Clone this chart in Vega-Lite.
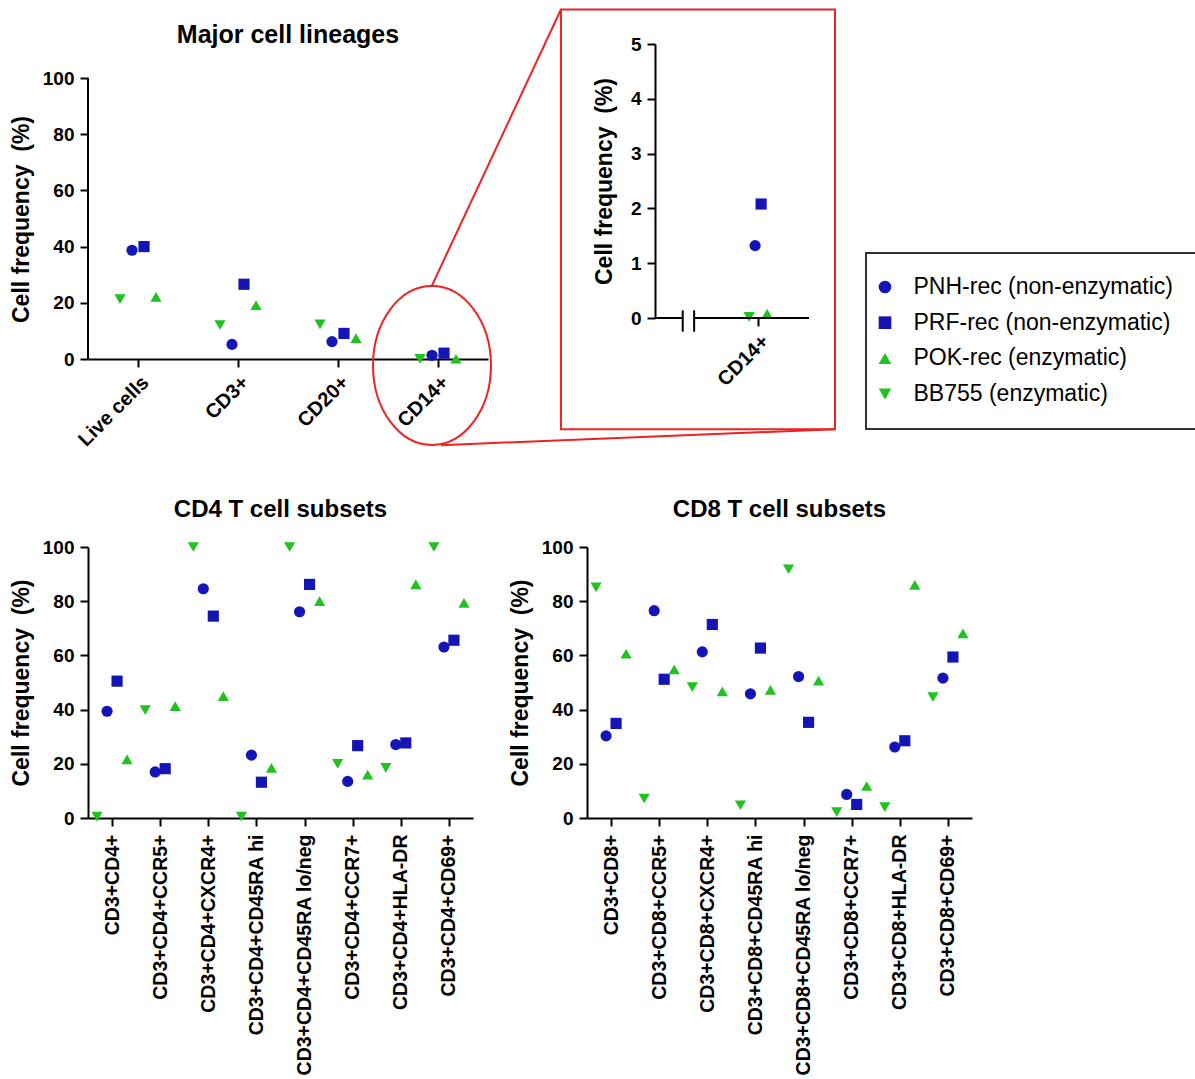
{
"$schema": "https://vega.github.io/schema/vega-lite/v6.json",
"background": "white",
"padding": {"left": 10, "top": 8, "right": 0, "bottom": 0},
"autosize": {"type": "pad"},
"bounds": "flush",
"columns": 2,
"spacing": {"row": 188, "column": 99},
"resolve": {"scale": {"xOffset": "independent"}},
"datasets": {
 "major": [
  {"population": "Live cells", "reagent": "PNH-rec (non-enzymatic)", "frequency": 38.7},
  {"population": "Live cells", "reagent": "PRF-rec (non-enzymatic)", "frequency": 40.0},
  {"population": "Live cells", "reagent": "POK-rec (enzymatic)", "frequency": 22.1},
  {"population": "Live cells", "reagent": "BB755 (enzymatic)", "frequency": 21.3},
  {"population": "CD3+", "reagent": "PNH-rec (non-enzymatic)", "frequency": 5.2},
  {"population": "CD3+", "reagent": "PRF-rec (non-enzymatic)", "frequency": 26.6},
  {"population": "CD3+", "reagent": "POK-rec (enzymatic)", "frequency": 19.2},
  {"population": "CD3+", "reagent": "BB755 (enzymatic)", "frequency": 12.1},
  {"population": "CD20+", "reagent": "PNH-rec (non-enzymatic)", "frequency": 6.2},
  {"population": "CD20+", "reagent": "PRF-rec (non-enzymatic)", "frequency": 9.1},
  {"population": "CD20+", "reagent": "POK-rec (enzymatic)", "frequency": 7.4},
  {"population": "CD20+", "reagent": "BB755 (enzymatic)", "frequency": 12.3},
  {"population": "CD14+", "reagent": "PNH-rec (non-enzymatic)", "frequency": 1.32},
  {"population": "CD14+", "reagent": "PRF-rec (non-enzymatic)", "frequency": 2.08},
  {"population": "CD14+", "reagent": "POK-rec (enzymatic)", "frequency": 0.08},
  {"population": "CD14+", "reagent": "BB755 (enzymatic)", "frequency": 0.02}
 ],
 "cd4": [
  {"population": "CD3+CD4+", "reagent": "PNH-rec (non-enzymatic)", "frequency": 39.4},
  {"population": "CD3+CD4+", "reagent": "PRF-rec (non-enzymatic)", "frequency": 50.5},
  {"population": "CD3+CD4+", "reagent": "POK-rec (enzymatic)", "frequency": 21.6},
  {"population": "CD3+CD4+", "reagent": "BB755 (enzymatic)", "frequency": 0.5},
  {"population": "CD3+CD4+CCR5+", "reagent": "PNH-rec (non-enzymatic)", "frequency": 17.0},
  {"population": "CD3+CD4+CCR5+", "reagent": "PRF-rec (non-enzymatic)", "frequency": 18.2},
  {"population": "CD3+CD4+CCR5+", "reagent": "POK-rec (enzymatic)", "frequency": 41.3},
  {"population": "CD3+CD4+CCR5+", "reagent": "BB755 (enzymatic)", "frequency": 39.8},
  {"population": "CD3+CD4+CXCR4+", "reagent": "PNH-rec (non-enzymatic)", "frequency": 84.6},
  {"population": "CD3+CD4+CXCR4+", "reagent": "PRF-rec (non-enzymatic)", "frequency": 74.5},
  {"population": "CD3+CD4+CXCR4+", "reagent": "POK-rec (enzymatic)", "frequency": 45.0},
  {"population": "CD3+CD4+CXCR4+", "reagent": "BB755 (enzymatic)", "frequency": 100},
  {"population": "CD3+CD4+CD45RA hi", "reagent": "PNH-rec (non-enzymatic)", "frequency": 23.2},
  {"population": "CD3+CD4+CD45RA hi", "reagent": "PRF-rec (non-enzymatic)", "frequency": 13.2},
  {"population": "CD3+CD4+CD45RA hi", "reagent": "POK-rec (enzymatic)", "frequency": 18.5},
  {"population": "CD3+CD4+CD45RA hi", "reagent": "BB755 (enzymatic)", "frequency": 0.5},
  {"population": "CD3+CD4+CD45RA lo/neg", "reagent": "PNH-rec (non-enzymatic)", "frequency": 76.1},
  {"population": "CD3+CD4+CD45RA lo/neg", "reagent": "PRF-rec (non-enzymatic)", "frequency": 86.2},
  {"population": "CD3+CD4+CD45RA lo/neg", "reagent": "POK-rec (enzymatic)", "frequency": 80.0},
  {"population": "CD3+CD4+CD45RA lo/neg", "reagent": "BB755 (enzymatic)", "frequency": 100},
  {"population": "CD3+CD4+CCR7+", "reagent": "PNH-rec (non-enzymatic)", "frequency": 13.5},
  {"population": "CD3+CD4+CCR7+", "reagent": "PRF-rec (non-enzymatic)", "frequency": 26.7},
  {"population": "CD3+CD4+CCR7+", "reagent": "POK-rec (enzymatic)", "frequency": 16.0},
  {"population": "CD3+CD4+CCR7+", "reagent": "BB755 (enzymatic)", "frequency": 20.0},
  {"population": "CD3+CD4+HLA-DR", "reagent": "PNH-rec (non-enzymatic)", "frequency": 27.1},
  {"population": "CD3+CD4+HLA-DR", "reagent": "PRF-rec (non-enzymatic)", "frequency": 27.7},
  {"population": "CD3+CD4+HLA-DR", "reagent": "POK-rec (enzymatic)", "frequency": 86.2},
  {"population": "CD3+CD4+HLA-DR", "reagent": "BB755 (enzymatic)", "frequency": 18.5},
  {"population": "CD3+CD4+CD69+", "reagent": "PNH-rec (non-enzymatic)", "frequency": 63.1},
  {"population": "CD3+CD4+CD69+", "reagent": "PRF-rec (non-enzymatic)", "frequency": 65.6},
  {"population": "CD3+CD4+CD69+", "reagent": "POK-rec (enzymatic)", "frequency": 79.4},
  {"population": "CD3+CD4+CD69+", "reagent": "BB755 (enzymatic)", "frequency": 100}
 ],
 "cd8": [
  {"population": "CD3+CD8+", "reagent": "PNH-rec (non-enzymatic)", "frequency": 30.3},
  {"population": "CD3+CD8+", "reagent": "PRF-rec (non-enzymatic)", "frequency": 34.9},
  {"population": "CD3+CD8+", "reagent": "POK-rec (enzymatic)", "frequency": 60.6},
  {"population": "CD3+CD8+", "reagent": "BB755 (enzymatic)", "frequency": 85.1},
  {"population": "CD3+CD8+CCR5+", "reagent": "PNH-rec (non-enzymatic)", "frequency": 76.5},
  {"population": "CD3+CD8+CCR5+", "reagent": "PRF-rec (non-enzymatic)", "frequency": 51.2},
  {"population": "CD3+CD8+CCR5+", "reagent": "POK-rec (enzymatic)", "frequency": 54.8},
  {"population": "CD3+CD8+CCR5+", "reagent": "BB755 (enzymatic)", "frequency": 7.2},
  {"population": "CD3+CD8+CXCR4+", "reagent": "PNH-rec (non-enzymatic)", "frequency": 61.3},
  {"population": "CD3+CD8+CXCR4+", "reagent": "PRF-rec (non-enzymatic)", "frequency": 71.4},
  {"population": "CD3+CD8+CXCR4+", "reagent": "POK-rec (enzymatic)", "frequency": 46.7},
  {"population": "CD3+CD8+CXCR4+", "reagent": "BB755 (enzymatic)", "frequency": 48.3},
  {"population": "CD3+CD8+CD45RA hi", "reagent": "PNH-rec (non-enzymatic)", "frequency": 45.8},
  {"population": "CD3+CD8+CD45RA hi", "reagent": "PRF-rec (non-enzymatic)", "frequency": 62.7},
  {"population": "CD3+CD8+CD45RA hi", "reagent": "POK-rec (enzymatic)", "frequency": 47.3},
  {"population": "CD3+CD8+CD45RA hi", "reagent": "BB755 (enzymatic)", "frequency": 4.7},
  {"population": "CD3+CD8+CD45RA lo/neg", "reagent": "PNH-rec (non-enzymatic)", "frequency": 52.2},
  {"population": "CD3+CD8+CD45RA lo/neg", "reagent": "PRF-rec (non-enzymatic)", "frequency": 35.3},
  {"population": "CD3+CD8+CD45RA lo/neg", "reagent": "POK-rec (enzymatic)", "frequency": 50.7},
  {"population": "CD3+CD8+CD45RA lo/neg", "reagent": "BB755 (enzymatic)", "frequency": 91.8},
  {"population": "CD3+CD8+CCR7+", "reagent": "PNH-rec (non-enzymatic)", "frequency": 8.7},
  {"population": "CD3+CD8+CCR7+", "reagent": "PRF-rec (non-enzymatic)", "frequency": 5.0},
  {"population": "CD3+CD8+CCR7+", "reagent": "POK-rec (enzymatic)", "frequency": 11.8},
  {"population": "CD3+CD8+CCR7+", "reagent": "BB755 (enzymatic)", "frequency": 2.2},
  {"population": "CD3+CD8+HLA-DR", "reagent": "PNH-rec (non-enzymatic)", "frequency": 26.2},
  {"population": "CD3+CD8+HLA-DR", "reagent": "PRF-rec (non-enzymatic)", "frequency": 28.5},
  {"population": "CD3+CD8+HLA-DR", "reagent": "POK-rec (enzymatic)", "frequency": 86.0},
  {"population": "CD3+CD8+HLA-DR", "reagent": "BB755 (enzymatic)", "frequency": 4.0},
  {"population": "CD3+CD8+CD69+", "reagent": "PNH-rec (non-enzymatic)", "frequency": 51.6},
  {"population": "CD3+CD8+CD69+", "reagent": "PRF-rec (non-enzymatic)", "frequency": 59.4},
  {"population": "CD3+CD8+CD69+", "reagent": "POK-rec (enzymatic)", "frequency": 68.1},
  {"population": "CD3+CD8+CD69+", "reagent": "BB755 (enzymatic)", "frequency": 44.6}
 ]
},
"concat": [
 {
  "width": 400, "height": 315,
  "title": {"text": "Major cell lineages", "fontSize": 25, "frame": "group", "offset": -4},
  "resolve": {"scale": {"x": "independent"}},
  "layer": [
   {
    "data": {"name": "major"},
    "mark": {"type": "point", "filled": true, "size": 125, "opacity": 1},
    "encoding": {
     "x": {"field": "population", "type": "nominal", "sort": null, "scale": {"type": "point", "padding": 0.5}, "axis": {"title": null, "labelAngle": 315, "labelFontSize": 20, "labelPadding": 5}},
     "xOffset": {"field": "reagent", "type": "nominal", "scale": {"type": "point", "domain": ["BB755 (enzymatic)", "PNH-rec (non-enzymatic)", "PRF-rec (non-enzymatic)", "POK-rec (enzymatic)"], "range": [-18, 18], "padding": 0}},
     "y": {"field": "frequency", "type": "quantitative", "scale": {"domain": [0, 112.1], "nice": false, "zero": false}, "axis": {"values": [0, 20, 40, 60, 80, 100], "domain": false, "title": "Cell frequency \u00a0(%)", "titleY": 175}},
     "color": {"field": "reagent", "type": "nominal", "scale": {"domain": ["PNH-rec (non-enzymatic)", "PRF-rec (non-enzymatic)", "POK-rec (enzymatic)", "BB755 (enzymatic)"], "range": ["#1515b5", "#1515b5", "#1ec31e", "#1ec31e"]}, "legend": {"title": null, "orient": "none", "legendX": 778, "legendY": 209, "labelFontSize": 23, "labelFont": "Liberation Sans", "labelColor": "#000", "symbolSize": 160, "symbolStrokeWidth": 0, "rowPadding": 11.7, "padding": 22.5, "strokeColor": "#333", "labelOffset": 17, "symbolOffset": -15, "labelLimit": 400}},
     "shape": {"field": "reagent", "type": "nominal", "scale": {"domain": ["PNH-rec (non-enzymatic)", "PRF-rec (non-enzymatic)", "POK-rec (enzymatic)", "BB755 (enzymatic)"], "range": ["circle", "square", "triangle-up", "triangle-down"]}, "legend": {"title": null, "orient": "none", "legendX": 778, "legendY": 209, "labelFontSize": 23, "labelFont": "Liberation Sans", "labelColor": "#000", "symbolSize": 160, "symbolStrokeWidth": 0, "rowPadding": 11.7, "padding": 22.5, "strokeColor": "#333", "labelOffset": 17, "symbolOffset": -15, "labelLimit": 400}}
    }
   },
   {
    "data": {"values": [{}]},
    "mark": {"type": "rule", "color": "#000", "strokeWidth": 2},
    "encoding": {
     "x": {"datum": 0, "type": "quantitative", "scale": {"domain": [0, 1], "nice": false, "zero": false}, "axis": null},
     "y": {"datum": 0, "type": "quantitative", "scale": {"domain": [0, 112.1], "nice": false, "zero": false}},
     "y2": {"datum": 100}
    }
   },
   {
    "data": {"values": [{}]},
    "mark": {"type": "point", "shape": "M0.742,0C0.742,0.552,0.41,1,0,1C-0.41,1,-0.742,0.552,-0.742,0C-0.742,-0.552,-0.41,-1,0,-1C0.41,-1,0.742,-0.552,0.742,0Z", "size": 25281, "filled": false, "color": "#ec2224", "strokeWidth": 2, "opacity": 1},
    "encoding": {
     "x": {"datum": 0.86, "type": "quantitative", "scale": {"domain": [0, 1], "nice": false, "zero": false}, "axis": null},
     "y": {"datum": -2.31, "type": "quantitative", "scale": {"domain": [0, 112.1], "nice": false, "zero": false}}
    }
   }
  ]
 },
 {
  "width": 248, "height": 274,
  "resolve": {"scale": {"x": "independent"}},
  "layer": [
   {
    "data": {"name": "major"},
    "transform": [{"filter": "datum.population === 'CD14+'"}],
    "mark": {"type": "point", "filled": true, "size": 125, "opacity": 1},
    "encoding": {
     "x": {"field": "population", "type": "nominal", "scale": {"type": "point", "padding": 0.5, "align": 0.69}, "axis": {"title": null, "labelAngle": 315, "labelFontSize": 20, "labelPadding": 5, "domain": false}},
     "xOffset": {"field": "reagent", "type": "nominal", "scale": {"type": "point", "domain": ["BB755 (enzymatic)", "PNH-rec (non-enzymatic)", "PRF-rec (non-enzymatic)", "POK-rec (enzymatic)"], "range": [-9, 9], "padding": 0}},
     "y": {"field": "frequency", "type": "quantitative", "scale": {"domain": [0, 5], "nice": false, "zero": false}, "axis": {"values": [0, 1, 2, 3, 4, 5], "offset": -68, "title": "Cell frequency \u00a0(%)", "titlePadding": 14}},
     "color": {"field": "reagent", "type": "nominal", "scale": {"domain": ["PNH-rec (non-enzymatic)", "PRF-rec (non-enzymatic)", "POK-rec (enzymatic)", "BB755 (enzymatic)"], "range": ["#1515b5", "#1515b5", "#1ec31e", "#1ec31e"]}, "legend": {"title": null, "orient": "none", "legendX": 778, "legendY": 209, "labelFontSize": 23, "labelFont": "Liberation Sans", "labelColor": "#000", "symbolSize": 160, "symbolStrokeWidth": 0, "rowPadding": 11.7, "padding": 22.5, "strokeColor": "#333", "labelOffset": 17, "symbolOffset": -15, "labelLimit": 400}},
     "shape": {"field": "reagent", "type": "nominal", "scale": {"domain": ["PNH-rec (non-enzymatic)", "PRF-rec (non-enzymatic)", "POK-rec (enzymatic)", "BB755 (enzymatic)"], "range": ["circle", "square", "triangle-up", "triangle-down"]}, "legend": {"title": null, "orient": "none", "legendX": 778, "legendY": 209, "labelFontSize": 23, "labelFont": "Liberation Sans", "labelColor": "#000", "symbolSize": 160, "symbolStrokeWidth": 0, "rowPadding": 11.7, "padding": 22.5, "strokeColor": "#333", "labelOffset": 17, "symbolOffset": -15, "labelLimit": 400}}
    }
   },
   {
    "data": {"values": [{}]},
    "mark": {"type": "rule", "color": "#000", "strokeWidth": 2},
    "encoding": {
     "x": {"datum": 0.274, "type": "quantitative", "scale": {"domain": [0, 1], "nice": false, "zero": false}, "axis": null},
     "x2": {"datum": 0.386},
     "y": {"datum": 0, "type": "quantitative", "scale": {"domain": [0, 5], "nice": false, "zero": false}}
    }
   },
   {
    "data": {"values": [{}]},
    "mark": {"type": "rule", "color": "#000", "strokeWidth": 2},
    "encoding": {
     "x": {"datum": 0.432, "type": "quantitative", "scale": {"domain": [0, 1], "nice": false, "zero": false}, "axis": null},
     "x2": {"datum": 0.895},
     "y": {"datum": 0, "type": "quantitative", "scale": {"domain": [0, 5], "nice": false, "zero": false}}
    }
   },
   {
    "data": {"values": [{}]},
    "mark": {"type": "rule", "color": "#000", "strokeWidth": 2},
    "encoding": {
     "x": {"datum": 0.386, "type": "quantitative", "scale": {"domain": [0, 1], "nice": false, "zero": false}, "axis": null},
     "y": {"datum": -0.25, "type": "quantitative", "scale": {"domain": [0, 5], "nice": false, "zero": false}},
     "y2": {"datum": 0.14}
    }
   },
   {
    "data": {"values": [{}]},
    "mark": {"type": "rule", "color": "#000", "strokeWidth": 2},
    "encoding": {
     "x": {"datum": 0.432, "type": "quantitative", "scale": {"domain": [0, 1], "nice": false, "zero": false}, "axis": null},
     "y": {"datum": -0.25, "type": "quantitative", "scale": {"domain": [0, 5], "nice": false, "zero": false}},
     "y2": {"datum": 0.14}
    }
   },
   {
    "data": {"values": [{}]},
    "mark": {"type": "rect", "filled": false, "color": "#ec2224", "strokeWidth": 2, "opacity": 1},
    "encoding": {
     "x": {"datum": -0.105, "type": "quantitative", "scale": {"domain": [0, 1], "nice": false, "zero": false}, "axis": null},
     "x2": {"datum": 1.0},
     "y": {"datum": 5.63, "type": "quantitative", "scale": {"domain": [0, 5], "nice": false, "zero": false}},
     "y2": {"datum": -2.03}
    }
   },
   {
    "data": {"values": [{}]},
    "mark": {"type": "rule", "color": "#ec2224", "strokeWidth": 2},
    "encoding": {
     "x": {"datum": -0.626, "type": "quantitative", "scale": {"domain": [0, 1], "nice": false, "zero": false}, "axis": null},
     "x2": {"datum": -0.105},
     "y": {"datum": 0.584, "type": "quantitative", "scale": {"domain": [0, 5], "nice": false, "zero": false}},
     "y2": {"datum": 5.63}
    }
   },
   {
    "data": {"values": [{}]},
    "mark": {"type": "rule", "color": "#ec2224", "strokeWidth": 2},
    "encoding": {
     "x": {"datum": -0.589, "type": "quantitative", "scale": {"domain": [0, 1], "nice": false, "zero": false}, "axis": null},
     "x2": {"datum": 1.0},
     "y": {"datum": -2.32, "type": "quantitative", "scale": {"domain": [0, 5], "nice": false, "zero": false}},
     "y2": {"datum": -2.03}
    }
   }
  ]
 },
 {
  "width": 385, "height": 271,
  "title": {"text": "CD4 T cell subsets", "fontSize": 24, "frame": "group", "offset": 16},
  "data": {"name": "cd4"},
  "mark": {"type": "point", "filled": true, "size": 125, "opacity": 1},
  "encoding": {
   "x": {"field": "population", "type": "nominal", "sort": null, "scale": {"type": "point", "padding": 0.5}, "axis": {"title": null, "labelAngle": 270, "labelFontSize": 19.5, "labelPadding": 8}},
   "xOffset": {"field": "reagent", "type": "nominal", "scale": {"type": "point", "domain": ["BB755 (enzymatic)", "PNH-rec (non-enzymatic)", "PRF-rec (non-enzymatic)", "POK-rec (enzymatic)"], "range": [-15, 15], "padding": 0}},
   "y": {"field": "frequency", "type": "quantitative", "scale": {"domain": [0, 100], "nice": false, "zero": false}, "axis": {"values": [0, 20, 40, 60, 80, 100], "title": "Cell frequency \u00a0(%)"}},
   "color": {"field": "reagent", "type": "nominal", "scale": {"domain": ["PNH-rec (non-enzymatic)", "PRF-rec (non-enzymatic)", "POK-rec (enzymatic)", "BB755 (enzymatic)"], "range": ["#1515b5", "#1515b5", "#1ec31e", "#1ec31e"]}, "legend": {"title": null, "orient": "none", "legendX": 778, "legendY": 209, "labelFontSize": 23, "labelFont": "Liberation Sans", "labelColor": "#000", "symbolSize": 160, "symbolStrokeWidth": 0, "rowPadding": 11.7, "padding": 22.5, "strokeColor": "#333", "labelOffset": 17, "symbolOffset": -15, "labelLimit": 400}},
   "shape": {"field": "reagent", "type": "nominal", "scale": {"domain": ["PNH-rec (non-enzymatic)", "PRF-rec (non-enzymatic)", "POK-rec (enzymatic)", "BB755 (enzymatic)"], "range": ["circle", "square", "triangle-up", "triangle-down"]}, "legend": {"title": null, "orient": "none", "legendX": 778, "legendY": 209, "labelFontSize": 23, "labelFont": "Liberation Sans", "labelColor": "#000", "symbolSize": 160, "symbolStrokeWidth": 0, "rowPadding": 11.7, "padding": 22.5, "strokeColor": "#333", "labelOffset": 17, "symbolOffset": -15, "labelLimit": 400}}
  }
 },
 {
  "width": 385, "height": 271,
  "title": {"text": "CD8 T cell subsets", "fontSize": 24, "frame": "group", "offset": 16},
  "data": {"name": "cd8"},
  "mark": {"type": "point", "filled": true, "size": 125, "opacity": 1},
  "encoding": {
   "x": {"field": "population", "type": "nominal", "sort": null, "scale": {"type": "point", "padding": 0.5}, "axis": {"title": null, "labelAngle": 270, "labelFontSize": 19.5, "labelPadding": 8}},
   "xOffset": {"field": "reagent", "type": "nominal", "scale": {"type": "point", "domain": ["BB755 (enzymatic)", "PNH-rec (non-enzymatic)", "PRF-rec (non-enzymatic)", "POK-rec (enzymatic)"], "range": [-15, 15], "padding": 0}},
   "y": {"field": "frequency", "type": "quantitative", "scale": {"domain": [0, 100], "nice": false, "zero": false}, "axis": {"values": [0, 20, 40, 60, 80, 100], "title": "Cell frequency \u00a0(%)"}},
   "color": {"field": "reagent", "type": "nominal", "scale": {"domain": ["PNH-rec (non-enzymatic)", "PRF-rec (non-enzymatic)", "POK-rec (enzymatic)", "BB755 (enzymatic)"], "range": ["#1515b5", "#1515b5", "#1ec31e", "#1ec31e"]}, "legend": {"title": null, "orient": "none", "legendX": 778, "legendY": 209, "labelFontSize": 23, "labelFont": "Liberation Sans", "labelColor": "#000", "symbolSize": 160, "symbolStrokeWidth": 0, "rowPadding": 11.7, "padding": 22.5, "strokeColor": "#333", "labelOffset": 17, "symbolOffset": -15, "labelLimit": 400}},
   "shape": {"field": "reagent", "type": "nominal", "scale": {"domain": ["PNH-rec (non-enzymatic)", "PRF-rec (non-enzymatic)", "POK-rec (enzymatic)", "BB755 (enzymatic)"], "range": ["circle", "square", "triangle-up", "triangle-down"]}, "legend": {"title": null, "orient": "none", "legendX": 778, "legendY": 209, "labelFontSize": 23, "labelFont": "Liberation Sans", "labelColor": "#000", "symbolSize": 160, "symbolStrokeWidth": 0, "rowPadding": 11.7, "padding": 22.5, "strokeColor": "#333", "labelOffset": 17, "symbolOffset": -15, "labelLimit": 400}}
  }
 }
],
"config": {
 "font": "Liberation Sans",
 "view": {"stroke": null},
 "axis": {"domainColor": "#000", "domainWidth": 2, "tickColor": "#000", "tickWidth": 2, "tickSize": 8, "labelFont": "Liberation Sans", "labelFontWeight": "bold", "labelFontSize": 19, "labelColor": "#000", "labelPadding": 6, "labelLimit": 400, "labelOverlap": false, "labelFlush": false, "titleFont": "Liberation Sans", "titleFontWeight": "bold", "titleFontSize": 23, "titleColor": "#000", "titlePadding": 9, "grid": false},
 "title": {"font": "Liberation Sans", "fontWeight": "bold", "color": "#000", "anchor": "middle"},
 "legend": {"strokeWidth": 2}
}
}
